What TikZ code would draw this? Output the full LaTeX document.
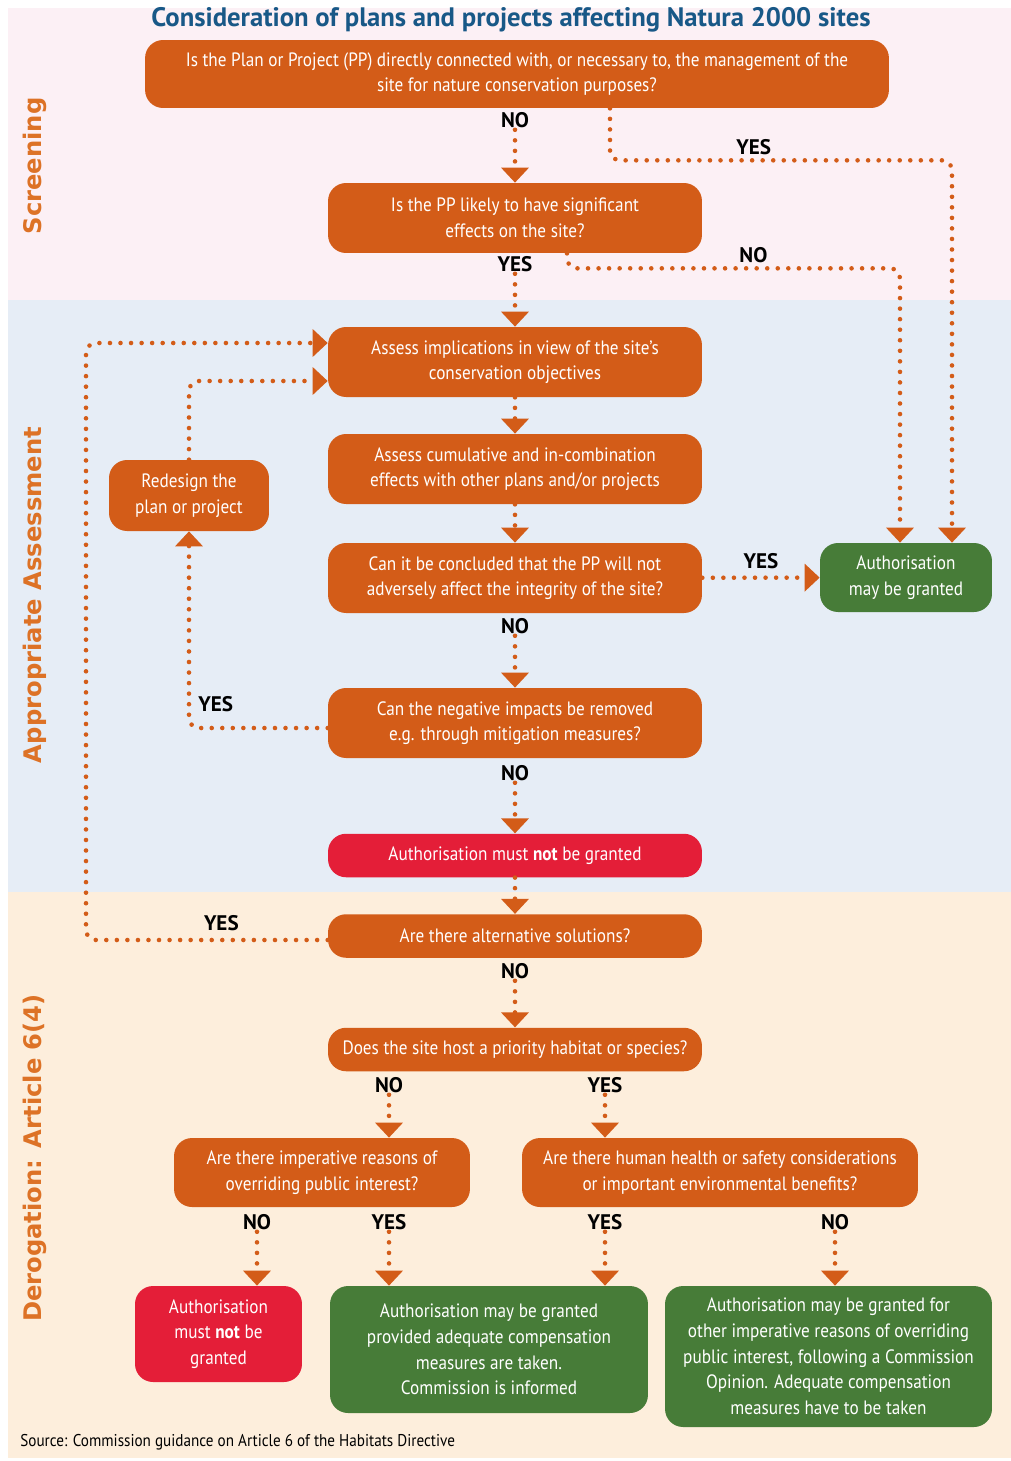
\documentclass[tikz,border=0pt]{standalone}
\usepackage{fontspec}
\setmainfont{PT Sans}
\newfontfamily\narrowfont[FakeStretch=0.89]{PT Sans}
\newfontfamily\phasefont{DejaVu Sans}
\usetikzlibrary{arrows.meta, positioning, calc, backgrounds}
\definecolor{boxOrange}{RGB}{211, 92, 24}
\definecolor{okGreen}{RGB}{71, 124, 56}
\definecolor{stopRed}{RGB}{228, 30, 56}
\definecolor{phaseOrange}{RGB}{221, 114, 38}
\definecolor{titleBlue}{RGB}{24, 88, 135}
\definecolor{screenBg}{RGB}{252, 240, 245}
\definecolor{assessBg}{RGB}{230, 237, 246}
\definecolor{derogBg}{RGB}{253, 238, 220}

\begin{document}
\begin{tikzpicture}[
    x=0.02cm, y=-0.02cm,
    box/.style={rectangle, rounded corners=0.36cm, fill=boxOrange, text=white, align=center, inner sep=2pt, font=\narrowfont\fontsize{11}{14.6}\selectfont},
    qbox/.style={box, minimum width=7.48cm, minimum height=1.4cm},
    slim/.style={box, minimum width=7.48cm, minimum height=0.87cm},
    gbox/.style={box, fill=okGreen},
    rbox/.style={box, fill=stopRed},
    yn/.style={font=\bfseries\fontsize{12}{12}\selectfont, text=black, inner sep=1pt},
    flow/.style={draw=boxOrange, line width=2.6pt, line cap=round, dash pattern=on 0pt off 6pt, -{Triangle[width=0.54cm, length=0.3cm]}},
    phase/.style={font=\phasefont\bfseries\fontsize{13.8}{13.8}\selectfont, text=phaseOrange, rotate=90}
]
    \useasboundingbox (0,0) rectangle (1011,1461);

    % Nodes
    \node[font=\bfseries\fontsize{15.2}{15.2}\selectfont, text=titleBlue] (title) at (511,20) {Consideration of plans and projects affecting Natura 2000 sites};

    \node[box, minimum width=14.88cm, minimum height=1.36cm] (direct) at (517,74) {Is the Plan or Project (PP) directly connected with, or necessary to, the management of the\\ site for nature conservation purposes?};
    \node[qbox] (likely) at (515,218) {Is the PP likely to have significant\\ effects on the site?};
    \node[qbox] (implic) at (515,362) {Assess implications in view of the site’s\\ conservation objectives};
    \node[qbox] (cumul) at (515,469) {Assess cumulative and in-combination\\ effects with other plans and/or projects};
    \node[qbox] (integrity) at (515,578) {Can it be concluded that the PP will not\\ adversely affect the integrity of the site?};
    \node[qbox] (mitig) at (515,723) {Can the negative impacts be removed\\ e.g. through mitigation measures?};
    \node[slim, rbox] (refuse) at (515,855.5) {Authorisation must \textbf{not} be granted};
    \node[slim] (altern) at (515,936) {Are there alternative solutions?};
    \node[slim] (priority) at (515,1049.5) {Does the site host a priority habitat or species?};

    \node[box, minimum width=3.2cm, minimum height=1.42cm] (redesign) at (189,495.5) {Redesign the\\ plan or project};
    \node[gbox, minimum width=3.44cm, minimum height=1.38cm] (granted) at (906,577.5) {Authorisation\\ may be granted};

    \node[box, minimum width=5.92cm, minimum height=1.38cm] (iropi) at (322,1172.5) {Are there imperative reasons of\\ overriding public interest?};
    \node[box, minimum width=7.92cm, minimum height=1.38cm] (health) at (720,1172.5) {Are there human health or safety considerations\\ or important environmental benefits?};

    \node[rbox, minimum width=3.34cm, minimum height=1.92cm] (refuse2) at (218.5,1334) {Authorisation\\ must \textbf{not} be\\ granted};
    \node[gbox, minimum width=6.36cm, minimum height=2.54cm] (compens) at (489,1349.5) {Authorisation may be granted\\ provided adequate compensation\\ measures are taken.\\ Commission is informed};
    \node[gbox, minimum width=6.54cm, minimum height=2.82cm] (opinion) at (828.5,1356.5) {Authorisation may be granted for\\ other imperative reasons of overriding\\ public interest, following a Commission\\ Opinion. Adequate compensation\\ measures have to be taken};

    % Phase titles and source
    \node[phase] (screen) at (35,166) {Screening};
    \node[phase] (appass) at (35,595) {Appropriate Assessment};
    \node[phase] (derog) at (35,1158) {Derogation: Article 6(4)};
    \node[anchor=west, inner sep=0pt, font=\narrowfont\fontsize{9.7}{9.7}\selectfont] (source) at (20,1442) {Source: Commission guidance on Article 6 of the Habitats Directive};

    % Answer labels
    \node[yn] (directNo) at (515,120) {NO};
    \node[yn] (likelyYes) at (515,264) {YES};
    \node[yn] (integrityNo) at (515,626) {NO};
    \node[yn] (mitigNo) at (515,773) {NO};
    \node[yn] (alternNo) at (515,971) {NO};
    \node[yn] (priorityNo) at (389,1085) {NO};
    \node[yn] (priorityYes) at (605,1085) {YES};
    \node[yn] (iropiNo) at (257,1222) {NO};
    \node[yn] (iropiYes) at (389,1222) {YES};
    \node[yn] (healthYes) at (605,1222) {YES};
    \node[yn] (healthNo) at (835,1222) {NO};

    % Connections
    \draw[flow] (directNo) -- (likely);
    \draw[flow, rounded corners=0.2cm] ($(direct.south)+(93,0)$) -- ++(0,52) -| node[yn, pos=0.21, above=1pt] {YES} ($(granted.north)+(46,0)$);
    \draw[flow] (likelyYes) -- (implic);
    \draw[flow, rounded corners=0.2cm] ($(likely.south)+(52,0)$) -- ++(0,15) -| node[yn, pos=0.28, above=1pt] {NO} ($(granted.north)+(-6,0)$);
    \draw[flow] (implic) -- (cumul);
    \draw[flow] (cumul) -- (integrity);
    \draw[flow] (integrity) -- node[yn, above=3pt] {YES} (granted);
    \draw[flow] (integrityNo) -- (mitig);
    \draw[flow, rounded corners=0.2cm] ($(mitig.west)+(0,5)$) -| node[yn, pos=0.56, right=3pt] {YES} (redesign.south);
    \draw[flow, rounded corners=0.2cm] (redesign.north) |- ($(implic.west)+(0,19)$);
    \draw[flow] (mitigNo) -- (refuse);
    \draw[flow] (refuse) -- (altern);
    \coordinate (loopTop) at (86,343);
    \draw[flow, rounded corners=0.2cm] ($(altern.west)+(0,4)$) -| node[yn, pos=0.22, above=3pt] {YES} (loopTop) -- ($(implic.west)+(0,-19)$);
    \draw[flow] (alternNo) -- (priority);
    \draw[flow] (priorityNo) -- (priorityNo |- iropi.north);
    \draw[flow] (priorityYes) -- (priorityYes |- health.north);
    \draw[flow] (iropiNo) -- (iropiNo |- refuse2.north);
    \draw[flow] (iropiYes) -- (iropiYes |- compens.north);
    \draw[flow] (healthYes) -- (healthYes |- compens.north);
    \draw[flow] (healthNo) -- (healthNo |- opinion.north);

    % Background bands
    \begin{scope}[on background layer]
        \fill[white] (0,0) rectangle (1011,1461);
        \fill[screenBg] (8,8) rectangle (1011,300);
        \fill[assessBg] (8,300) rectangle (1011,892);
        \fill[derogBg] (8,892) rectangle (1011,1458);
    \end{scope}
\end{tikzpicture}
\end{document}
